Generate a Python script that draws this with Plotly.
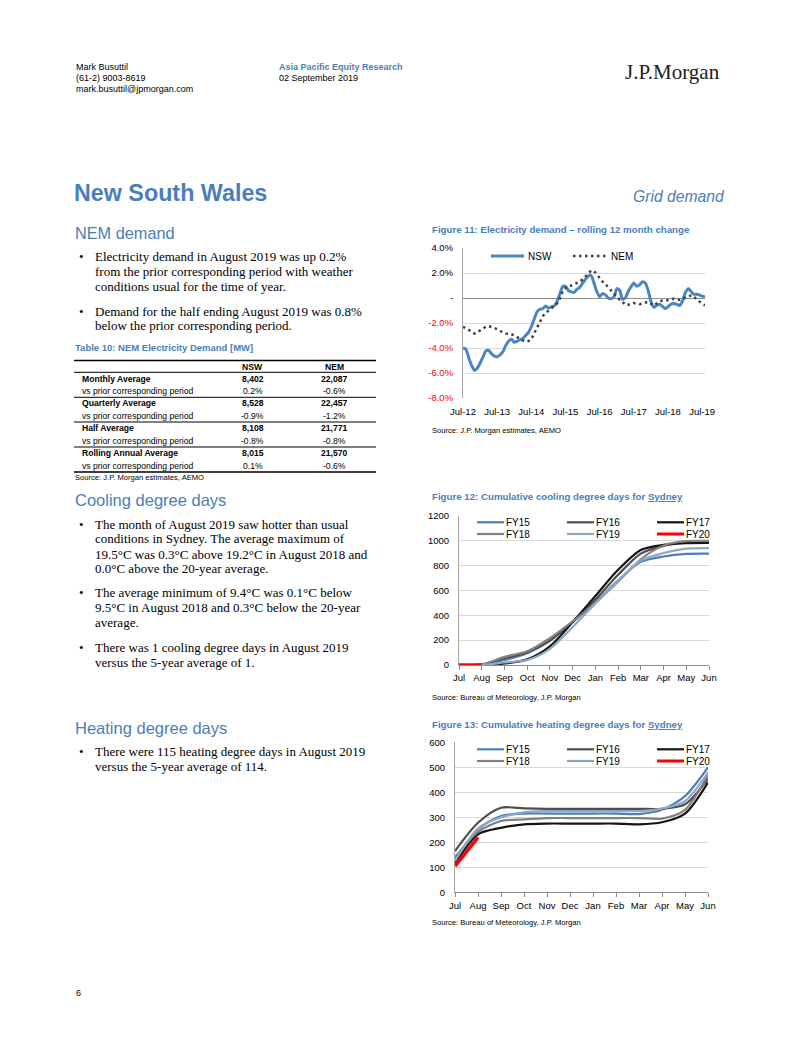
import plotly.graph_objects as go
import pandas as pd

W, H = 802, 1037

# ---------------- DATA ----------------
# Figure 11: rolling 12 month change (%), monthly Jul-12 .. Aug-19
fig11_months = pd.date_range("2012-07-01", "2019-08-01", freq="MS")
nsw_change = [-4.0, -4.1, -4.8, -5.4, -5.8, -5.6, -5.2, -4.7, -4.25, -4.2, -4.45, -4.65,
              -4.7, -4.55, -4.3, -3.8, -3.45, -3.3, -3.55, -3.45, -3.35, -3.25, -3.0, -2.75,
              -2.3, -1.7, -1.1, -0.9, -0.85, -0.65, -0.8, -0.7, -0.65, -0.3, 0.3, 0.9,
              0.95, 0.6, 0.5, 0.45, 0.7, 0.85, 1.2, 1.5, 1.75, 1.8, 1.2, 0.5,
              0.1, 0.35, 0.25, 0.0, -0.05, 0.1, 0.75, 0.6, -0.1, 0.0, 0.5, 0.9,
              1.2, 0.95, 1.05, 1.3, 1.2, 0.6, -0.3, -0.75, -0.6, -0.5, -0.65, -0.85,
              -0.7, -0.5, -0.45, -0.5, -0.6, -0.3, 0.4, 0.75, 0.55, 0.3, 0.3, 0.25,
              0.15, 0.1]
nem_change = [-2.3, -2.4, -2.55, -2.7, -2.85, -2.75, -2.6, -2.4, -2.3, -2.25, -2.3, -2.4,
              -2.5, -2.65, -2.75, -2.85, -2.85, -2.9, -3.0, -3.15, -3.25, -3.4, -3.5, -3.45,
              -3.3, -2.8, -2.3, -1.85, -1.45, -1.2, -1.0, -0.85, -0.65, -0.45, -0.05, 0.5,
              0.8, 0.95, 1.0, 1.1, 1.15, 1.3, 1.5, 1.7, 1.95, 2.2, 2.15, 1.9,
              1.55, 1.3, 1.1, 0.85, 0.6, 0.3, 0.05, -0.15, -0.3, -0.55, -0.55, -0.45,
              -0.4, -0.45, -0.5, -0.45, -0.4, -0.3, -0.45, -0.6, -0.45, -0.3, -0.2, -0.2,
              -0.2, -0.15, -0.05, -0.1, -0.15, -0.05, 0.0, 0.1, 0.2, 0.15, -0.1, -0.3,
              -0.45, -0.6]
fig11_ticks = [-8, -6, -4, -2, 0, 2, 4]
fig11_ticktext = ["-8.0%", "-6.0%", "-4.0%", "-2.0%", "-", "2.0%", "4.0%"]

# Figure 12 / 13: fiscal-year months
fy_months = ["Jul", "Aug", "Sep", "Oct", "Nov", "Dec", "Jan", "Feb", "Mar", "Apr", "May", "Jun"]

cdd_fy15 = [0, 2, 40, 95, 200, 345, 500, 680, 830, 872, 893, 895]
cdd_fy16 = [0, 3, 55, 100, 195, 350, 525, 725, 895, 958, 983, 985]
cdd_fy17 = [0, 0, 12, 45, 150, 345, 555, 765, 925, 965, 980, 982]
cdd_fy18 = [0, 5, 65, 110, 215, 350, 500, 670, 850, 960, 995, 997]
cdd_fy19 = [0, 0, 20, 40, 130, 305, 495, 675, 840, 900, 935, 940]
cdd_fy20 = [0, 0]

hdd_fy15 = [130, 252, 305, 315, 315, 315, 315, 315, 313, 330, 385, 500]
hdd_fy16 = [165, 278, 338, 336, 334, 334, 334, 334, 334, 334, 352, 455]
hdd_fy17 = [115, 232, 258, 272, 275, 275, 275, 275, 272, 280, 315, 440]
hdd_fy18 = [140, 242, 285, 292, 297, 297, 297, 297, 297, 295, 330, 470]
hdd_fy19 = [125, 255, 300, 320, 325, 325, 325, 325, 325, 335, 365, 480]
hdd_fy20 = [105, 220]

fy_names = ["FY15", "FY16", "FY17", "FY18", "FY19", "FY20"]
fy_colors = ["#4a7ebb", "#4d4d4d", "#141414", "#808080", "#8fa6c8", "#ff0000"]
fy_widths = [2.2, 2.2, 2.2, 2.2, 2.2, 3.5]

# Table 10
table_rows = ["Monthly Average", "vs prior corresponding period",
              "Quarterly Average", "vs prior corresponding period",
              "Half Average", "vs prior corresponding period",
              "Rolling Annual Average", "vs prior corresponding period"]
table_nsw = ["8,402", "0.2%", "8,528", "-0.9%", "8,108", "-0.8%", "8,015", "0.1%"]
table_nem = ["22,087", "-0.6%", "22,457", "-1.2%", "21,771", "-0.8%", "21,570", "-0.6%"]

# ---------------- STYLE ----------------
SANS = "Liberation Sans, Arial, sans-serif"
NARROW = "Liberation Sans Narrow, Arial Narrow, Liberation Sans, Arial, sans-serif"
SERIF = "Liberation Serif, Times New Roman, serif"
BLUE = "#4a7ebb"
GRID = "#d9d9d9"
OFF = 8  # page body margin of the browser


def X(p):
    return (p - OFF) / W


def Y(p):
    return 1 - (p - OFF) / H


anns = []
shapes = []


def T(x, y, s, size=9, color="#000000", family=SANS, xanchor="left", yanchor="middle"):
    anns.append(dict(x=X(x), y=Y(y), xref="paper", yref="paper", text=s, showarrow=False,
                     xanchor=xanchor, yanchor=yanchor, align="left", borderpad=0,
                     font=dict(size=size, color=color, family=family)))


def L(x0, y0, x1, y1, color="#000000", width=1, dash="solid"):
    shapes.append(dict(type="line", xref="paper", yref="paper", x0=X(x0), y0=Y(y0),
                       x1=X(x1), y1=Y(y1), line=dict(color=color, width=width, dash=dash)))


fig = go.Figure()

# ---------------- FIGURE 11 ----------------
fig.add_trace(go.Scatter(x=fig11_months, y=nsw_change, mode="lines", name="NSW",
                         line=dict(color="#4a86c0", width=3, shape="spline", smoothing=0.6),
                         xaxis="x", yaxis="y", showlegend=False))
fig.add_trace(go.Scatter(x=fig11_months, y=nem_change, mode="lines", name="NEM",
                         line=dict(color="#404040", width=2.5, dash="2.5px,3.5px"),
                         xaxis="x", yaxis="y", showlegend=False))

# ---------------- FIGURE 12 / 13 ----------------
cdd = [cdd_fy15, cdd_fy16, cdd_fy17, cdd_fy18, cdd_fy19, cdd_fy20]
hdd = [hdd_fy15, hdd_fy16, hdd_fy17, hdd_fy18, hdd_fy19, hdd_fy20]
for i, name in enumerate(fy_names):
    fig.add_trace(go.Scatter(x=fy_months[:len(cdd[i])], y=cdd[i], mode="lines", name=name,
                             line=dict(color=fy_colors[i], width=fy_widths[i], shape="spline", smoothing=0.8),
                             xaxis="x2", yaxis="y2", showlegend=False))
for i, name in enumerate(fy_names):
    fig.add_trace(go.Scatter(x=fy_months[:len(hdd[i])], y=hdd[i], mode="lines", name=name,
                             line=dict(color=fy_colors[i], width=fy_widths[i], shape="spline", smoothing=0.8),
                             xaxis="x3", yaxis="y3", showlegend=False))

tickfont = dict(size=9.5, family=NARROW, color="#000000")
neg = '<span style="color:#ff0000">%s</span>'
fig11_ticklabels = [neg % t if v < 0 else t for v, t in zip(fig11_ticks, fig11_ticktext)]

common = dict(automargin=False)
fig.update_layout(
    template="none",
    autosize=False,
    width=W, height=H, margin=dict(l=0, r=0, t=0, b=0, pad=0, autoexpand=False),
    paper_bgcolor="white", plot_bgcolor="white",
    showlegend=False,
    xaxis=dict(domain=[X(463), X(705)], anchor="y", type="date",
               range=["2012-07-01", "2019-08-01"], tick0="2012-07-01", dtick="M12",
               tickformat="%b-%y", showgrid=False, showline=False, zeroline=False,
               ticks="outside", ticklen=5, tickcolor="rgba(0,0,0,0)", tickfont=tickfont, **common),
    yaxis=dict(domain=[Y(398), Y(248)], anchor="x", range=[-8, 4],
               tickvals=fig11_ticks, ticktext=fig11_ticklabels,
               showgrid=True, gridcolor=GRID, gridwidth=1.3,
               zeroline=True, zerolinecolor="#8c8c8c", zerolinewidth=1,
               showline=True, linecolor="#a6a6a6", linewidth=1,
               ticks="outside", ticklen=7, tickcolor="rgba(0,0,0,0)", tickfont=tickfont, **common),
    xaxis2=dict(domain=[X(459), X(709)], anchor="y2", type="category",
                categoryorder="array", categoryarray=fy_months, range=[0, 11],
                showgrid=False, showline=True, linecolor="#8c8c8c", linewidth=1, zeroline=False,
                ticks="outside", ticklen=4, tickcolor="#8c8c8c", tickfont=tickfont, **common),
    yaxis2=dict(domain=[Y(665), Y(515.7)], anchor="x2", range=[0, 1200], dtick=200,
                showgrid=True, gridcolor=GRID, gridwidth=1.3, zeroline=False,
                showline=True, linecolor="#a6a6a6", linewidth=1,
                ticks="outside", ticklen=7, tickcolor="rgba(0,0,0,0)", tickfont=tickfont, **common),
    xaxis3=dict(domain=[X(455), X(708)], anchor="y3", type="category",
                categoryorder="array", categoryarray=fy_months, range=[0, 11],
                showgrid=False, showline=True, linecolor="#8c8c8c", linewidth=1, zeroline=False,
                ticks="outside", ticklen=4, tickcolor="#8c8c8c", tickfont=tickfont, **common),
    yaxis3=dict(domain=[Y(892.3), Y(742.3)], anchor="x3", range=[0, 600], dtick=100,
                showgrid=True, gridcolor=GRID, gridwidth=1.3, zeroline=False,
                showline=True, linecolor="#a6a6a6", linewidth=1,
                ticks="outside", ticklen=7, tickcolor="rgba(0,0,0,0)", tickfont=tickfont, **common),
)

# ---------------- HEADER ----------------
T(75, 67.5, "Mark Busuttil", 9)
T(75, 78, "(61-2) 9003-8619", 9)
T(75, 88.5, "mark.busuttil@jpmorgan.com", 9)
T(278, 67.5, "<b>Asia Pacific Equity Research</b>", 9, color=BLUE)
T(278, 78, "02 September 2019", 9)
T(721, 72, "J.P.Morgan", 21, family=SERIF, color="#222222", xanchor="right")

T(73, 193, "<b>New South Wales</b>", 23.3, color=BLUE)
T(726, 196, "<i>Grid demand</i>", 15.7, color=BLUE, xanchor="right")

# ---------------- LEFT COLUMN ----------------
T(74, 233, "NEM demand", 16.3, color=BLUE)
body = 13
T(78, 256.5, "•", body, family=SERIF)
T(94, 256.5, "Electricity demand in August 2019 was up 0.2%", body, family=SERIF)
T(94, 271.5, "from the prior corresponding period with weather", body, family=SERIF)
T(94, 286.5, "conditions usual for the time of year.", body, family=SERIF)
T(78, 311, "•", body, family=SERIF)
T(94, 311, "Demand for the half ending August 2019 was 0.8%", body, family=SERIF)
T(94, 326, "below the prior corresponding period.", body, family=SERIF)

# Table 10
tf = 8.6
T(74, 348, "<b>Table 10: NEM Electricity Demand [MW]</b>", 9.5, color=BLUE, family=NARROW)
L(74, 360.5, 376, 360.5, "#000000", 1.5)
T(252.5, 366.5, "<b>NSW</b>", tf, family=NARROW, xanchor="center")
T(334, 366.5, "<b>NEM</b>", tf, family=NARROW, xanchor="center")
L(74, 372.3, 376, 372.3, "#000000", 1)
row_y = [379, 391.3, 403.5, 415.8, 428.3, 440.6, 453, 465.5]
for i, (lab, a, b) in enumerate(zip(table_rows, table_nsw, table_nem)):
    bold = (i % 2 == 0)
    fmt = "<b>%s</b>" if bold else "%s"
    T(81, row_y[i], fmt % lab, tf, family=NARROW)
    T(252.5, row_y[i], fmt % a, tf, family=NARROW, xanchor="center")
    T(334, row_y[i], fmt % b, tf, family=NARROW, xanchor="center")
for yy in [397.3, 422, 447]:
    L(74, yy, 376, yy, "#000000", 1)
L(74, 472, 376, 472, "#000000", 1.5)
T(74, 477.5, "Source: J.P. Morgan estimates, AEMO", 7.6, family=NARROW)

# Cooling degree days
T(74, 500, "Cooling degree days", 16.5, color=BLUE)
T(78, 524, "•", body, family=SERIF)
T(94, 524, "The month of August 2019 saw hotter than usual", body, family=SERIF)
T(94, 538.5, "conditions in Sydney. The average maximum of", body, family=SERIF)
T(94, 554, "19.5°C was 0.3°C above 19.2°C in August 2018 and", body, family=SERIF)
T(94, 568.5, "0.0°C above the 20-year average.", body, family=SERIF)
T(78, 592.5, "•", body, family=SERIF)
T(94, 592.5, "The average minimum of 9.4°C was 0.1°C below", body, family=SERIF)
T(94, 607.5, "9.5°C in August 2018 and 0.3°C below the 20-year", body, family=SERIF)
T(94, 622, "average.", body, family=SERIF)
T(78, 647.5, "•", body, family=SERIF)
T(94, 647.5, "There was 1 cooling degree days in August 2019", body, family=SERIF)
T(94, 662, "versus the 5-year average of 1.", body, family=SERIF)

# Heating degree days
T(74, 727.5, "Heating degree days", 16.5, color=BLUE)
T(78, 751.5, "•", body, family=SERIF)
T(94, 751.5, "There were 115 heating degree days in August 2019", body, family=SERIF)
T(94, 766, "versus the 5-year average of 114.", body, family=SERIF)

T(75, 993, "6", 9)

# ---------------- RIGHT COLUMN: titles, legends, sources ----------------
T(431, 229.5, "<b>Figure 11: Electricity demand – rolling 12 month change</b>", 9.7, color=BLUE, family=NARROW)
T(431, 496, '<b>Figure 12: Cumulative cooling degree days for <span style="text-decoration:underline">Sydney</span></b>',
  9.7, color=BLUE, family=NARROW)
T(431, 724.5, '<b>Figure 13: Cumulative heating degree days for <span style="text-decoration:underline">Sydney</span></b>',
  9.7, color=BLUE, family=NARROW)

T(431, 430.5, "Source: J.P. Morgan estimates, AEMO", 7.6, family=NARROW)
T(431, 697, "Source: Bureau of Meteorology, J.P. Morgan", 7.6, family=NARROW)
T(431, 922.5, "Source: Bureau of Meteorology, J.P. Morgan", 7.6, family=NARROW)

# Legend figure 11
L(491, 256, 524, 256, "#4a86c0", 3)
T(526.5, 256, "NSW", 10, family=NARROW)
L(573, 256, 606, 256, "#404040", 2.5, "2.5px,3.5px")
T(610, 256, "NEM", 10, family=NARROW)

# Legends figure 12 / 13
col_x = [477, 567, 657]
for base_y in (522.3, 749.3):
    for i, name in enumerate(fy_names):
        r, c = divmod(i, 3)
        yy = base_y + r * 11.7
        L(col_x[c], yy, col_x[c] + 27, yy, fy_colors[i], 3 if i == 5 else 2.2)
        T(col_x[c] + 27.5, yy, name, 10, family=NARROW)

fig.update_layout(annotations=anns, shapes=shapes)
fig.write_html("out.html")
